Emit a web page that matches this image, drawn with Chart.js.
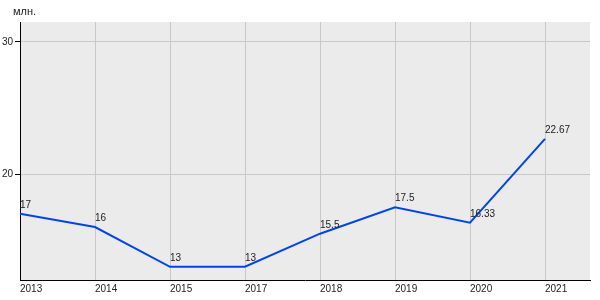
<!DOCTYPE html>
<html>
<head>
<meta charset="utf-8">
<script src="https://cdn.jsdelivr.net/npm/chart.js@4"></script>
<style>
  html, body { margin: 0; padding: 0; background: #fff; }
  #wrap { width: 600px; height: 300px; }
</style>
</head>
<body>
<div id="wrap"><canvas id="chart"></canvas></div>
<script>
// years on the x axis and values in millions
const years = ['2013', '2014', '2015', '2017', '2018', '2019', '2020', '2021'];
const values = [17, 16, 13, 13, 15.5, 17.5, 16.33, 22.67];
const valueLabels = ['17', '16', '13', '13', '15.5', '17.5', '16.33', '22.67'];
const unitLabel = 'млн.';

const FONT = 'Liberation Sans, Arial, sans-serif';

// grey plot background
const plotBg = {
    id: 'plotBg',
    beforeDraw(chart) {
        const { ctx, chartArea: a } = chart;
        ctx.save();
        ctx.fillStyle = '#ebebeb';
        ctx.fillRect(a.left, a.top, a.right - a.left, a.bottom - a.top);
        ctx.restore();
    }
};

// value labels next to points + unit text
const pointLabels = {
    id: 'pointLabels',
    afterDatasetsDraw(chart) {
        const { ctx } = chart;
        const meta = chart.getDatasetMeta(0);
        ctx.save();
        ctx.font = '10px ' + FONT;
        ctx.fillStyle = '#222';
        ctx.textAlign = 'left';
        ctx.textBaseline = 'alphabetic';
        meta.data.forEach((pt, i) => {
            ctx.fillText(valueLabels[i], pt.x, pt.y - 6);
        });
        ctx.font = '11px ' + FONT;
        ctx.fillText(unitLabel, 13, 15);
        ctx.restore();
    }
};

new Chart(document.getElementById('chart'), {
    type: 'line',
    data: {
        datasets: [{
            data: years.map((y, i) => ({ x: i, y: values[i] })),
            borderColor: '#0046e6',
            borderWidth: 2,
            pointRadius: 0,
            tension: 0,
            fill: false
        }]
    },
    options: {
        responsive: true,
        maintainAspectRatio: false,
        animation: false,
        layout: { padding: { top: 22, right: 10, left: 0, bottom: 0 } },
        scales: {
            x: {
                type: 'linear',
                min: 0,
                max: 7.6,
                afterFit: (s) => { s.height = 20; },
                border: { color: '#000', width: 1 },
                grid: { color: '#c8c8c8', drawTicks: false },
                ticks: {
                    stepSize: 1,
                    includeBounds: false,
                    align: 'start',
                    maxRotation: 0,
                    autoSkip: false,
                    padding: 3,
                    color: '#222',
                    font: { family: FONT, size: 10 },
                    callback: (v) => years[v]
                }
            },
            y: {
                min: 12,
                max: 31.5,
                afterFit: (s) => { s.width = 20; },
                border: { color: '#000', width: 1 },
                grid: { color: '#c8c8c8', tickColor: '#000', tickLength: 5 },
                ticks: {
                    stepSize: 10,
                    includeBounds: false,
                    padding: 2,
                    color: '#222',
                    font: { family: FONT, size: 10 }
                }
            }
        },
        plugins: {
            legend: { display: false },
            tooltip: { enabled: false }
        }
    },
    plugins: [plotBg, pointLabels]
});
</script>
</body>
</html>
